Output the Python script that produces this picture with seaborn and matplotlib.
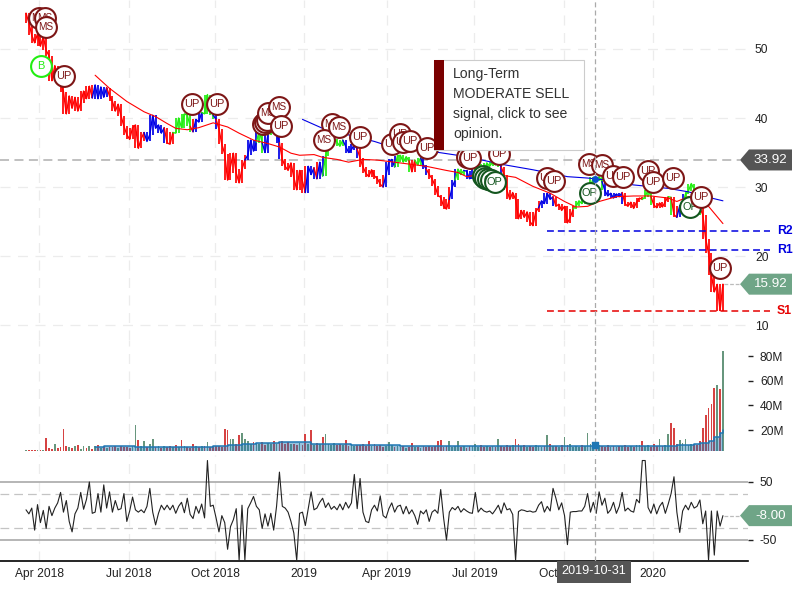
import matplotlib
matplotlib.use("Agg")
import matplotlib.pyplot as plt
from matplotlib.patches import Polygon, Rectangle
import numpy as np
import seaborn as sns

sns.set_theme(style="white")
plt.rcParams['font.family'] = ['Liberation Sans', 'DejaVu Sans']

# ---- data: x is the session slot along the shared time axis ----
tick_labels = ['Apr 2018', 'Jul 2018', 'Oct 2018', '2019', 'Apr 2019', 'Jul 2019', 'Oct 2019', '2020']
tick_slots = [4.6, 35.7, 65.7, 96.5, 125.2, 155.7, 186.7, 217.6]

close = [
 55.2,53.8,52.0,50.9,52.2,50.4,51.8,49.8,49.0,45.4,
 47.6,46.2,45.2,43.8,40.6,43.2,41.4,43.0,41.0,42.2,
 43.9,42.8,44.6,42.9,44.8,42.8,44.5,43.0,44.4,43.2,
 42.4,41.0,42.0,40.3,38.8,37.6,36.9,38.6,39.0,35.6,
 37.0,37.9,36.6,37.6,40.4,38.5,39.0,37.8,38.6,36.4,
 36.2,37.9,37.8,40.0,38.6,40.6,40.4,38.8,38.0,39.8,
 39.4,40.8,40.6,43.4,41.0,40.4,39.8,38.4,36.2,34.8,
 31.0,33.0,34.9,32.0,30.6,32.6,33.9,34.6,36.8,35.2,
 36.5,38.2,36.4,35.0,37.6,38.0,37.8,38.0,36.4,34.0,
 33.0,32.4,33.5,31.4,29.6,32.4,30.8,29.2,33.0,31.8,
 32.8,31.2,33.6,31.6,34.5,36.0,37.0,37.0,36.5,35.9,
 36.8,35.9,35.0,35.4,36.2,35.5,34.2,32.9,32.0,31.5,
 32.5,31.6,31.2,30.4,30.0,31.8,33.6,34.0,32.9,34.5,
 34.6,33.6,34.4,33.8,32.2,33.9,33.2,34.2,33.2,32.6,
 31.8,31.2,30.2,28.8,28.5,27.2,26.8,28.2,30.0,31.0,
 32.6,31.8,32.4,32.3,31.2,31.4,32.8,33.4,33.0,32.2,
 33.5,33.0,33.6,33.2,33.6,32.9,31.8,29.5,28.2,29.2,
 28.2,25.4,26.6,25.6,26.4,25.0,24.4,26.4,27.0,28.0,
 27.6,29.1,28.2,28.6,27.2,27.5,26.6,27.2,24.8,25.6,
 26.8,27.2,28.0,27.6,28.6,29.0,30.0,31.4,31.0,31.5,
 30.8,29.5,28.7,29.1,28.4,29.0,28.6,29.2,27.6,27.2,
 27.8,26.9,27.8,28.4,28.2,28.6,29.6,28.6,27.4,27.0,
 27.7,27.1,27.9,28.6,28.5,26.0,25.6,27.3,27.4,29.0,
 29.4,30.5,29.7,28.6,27.0,26.0,22.5,20.4,17.2,14.8,
 15.9,12.1,15.92]

trend_runs = [('red',24),('blue',5),('red',13),('blue',7),('red',3),('green',6),('red',1),('blue',3),
 ('green',4),('blue',1),('red',10),('blue',4),('green',2),('blue',2),('green',2),('blue',2),('red',9),
 ('blue',3),('red',1),('blue',2),('green',7),('blue',5),('red',9),('blue',4),('green',5),('red',2),
 ('green',2),('blue',2),('red',8),('blue',2),('green',3),('blue',3),('green',9),('blue',1),('red',13),
 ('blue',5),('red',7),('green',10),('blue',7),('red',7),('green',3),('red',6),('green',1),('red',2),
 ('blue',2),('green',6),('red',8)]

ma_short_x = [24,29,35,41,45,49,52,56,60,65,70,74,79,84,88,92,95,100,103,108,112,117,122,126,
 139,146,150,153,159,167,170,176,182,187,191,195,199,205,211,217,223,226,230,235,237,239,242]
ma_short_y = [46.2,44.3,42.4,40.9,40.2,39.2,38.5,38.3,38.6,39.3,38.7,37.8,36.8,36.3,35.8,34.9,34.6,34.7,34.3,34.0,33.6,34.0,33.9,33.7,
 33.0,32.4,32.1,31.5,31.9,31.6,31.4,30.1,29.1,27.9,27.1,27.2,27.9,28.6,28.7,28.7,28.4,27.9,28.6,28.6,27.2,26.2,24.7]
ma_long_x = [96,103,121,124,145,153,165,176,188,195,202,211,223,230,236,242]
ma_long_y = [39.8,38.5,36.6,36.2,34.9,34.4,33.3,32.5,31.5,31.3,31.0,30.3,29.8,29.3,28.6,28.0]

levels = {'R2': 23.6, 'R1': 20.9, 'S1': 12.0}
level_start = 181
prev_close = 33.92
last_close = 15.92
last_osc = -8.0
cross_slot = 197.6
cross_date = '2019-10-31'
cross_price = 31.2
cross_vol = 7.6

badges = [('MS',4.5,54.5),('MS',6.6,54.5),('MS',6.9,53.2),('B',5.1,47.6),('UP',13.2,46.1),('UP',57.6,42.1),
 ('UP',66.3,42.0),('UP',82.3,39.1),('UP',83.0,39.4),('UP',83.7,39.7),('MS',84.0,40.7),('MS',87.8,41.6),
 ('UP',88.5,38.9),('MS',106.3,39.1),('MS',103.5,36.8),('MS',108.7,38.7),('UP',116.0,37.2),('UP',127.1,36.3),
 ('UP',129.9,37.7),('UP',130.9,36.5),('UP',133.3,36.7),('UP',139.2,35.7),('UP',153.1,34.3),('UP',154.2,34.2),
 ('OP',158.7,31.6),('OP',159.4,31.3),('OP',160.4,31.2),('OP',161.5,31.0),('OP',162.8,30.7),('UP',164.2,34.8),
 ('UP',180.9,31.3),('UP',183.3,30.9),('OP',195.8,29.1),('MS',195.5,33.3),('MS',200.0,33.2),('UP',203.8,31.6),
 ('UP',207.3,31.4),('UP',216.0,32.3),('UP',217.7,30.7),('UP',224.7,31.3),('OP',230.6,27.1),('UP',234.4,28.6),
 ('UP',241.0,18.2)]

volume = [
 3.6,4.2,3.8,3.6,3.7,3.5,3.6,13.3,5.2,4.6,
 9,5.4,6.2,20.6,6.8,6,5.4,7.4,7.6,5,
 7.4,5.2,6.8,5,7,7.8,5.4,6.6,5.8,6.2,
 6.4,7,5.6,6.8,6,6.4,5.4,7,24,12,
 7,11,6.6,8.4,13,6.2,7,5.8,6.8,6.4,
 7.2,6,8,6.4,12,7,6.4,5.8,8.6,7,
 6.2,6.8,7.4,10.6,6,6.8,7,7.4,6.4,20.6,
 20,12.5,13,9,16,18,13,11,9,10.4,
 9,8.6,10.4,7.8,9.6,9,11,8.4,10.6,11.4,
 8.6,10,9,8.4,7.6,9.4,8,17,9,20,
 7.8,9.4,8.4,14.6,16.5,9,8,9.4,7.6,8.6,
 8,12,7.4,8.8,7,8.2,7.6,9,7,11.4,
 7.4,8.6,7,8,6.6,7.4,10.6,7.8,6.4,7,
 6.4,6.8,5.8,6.6,9.7,6,6.6,5.4,6.8,6.2,
 7,6,7.4,11,11.6,6.6,7.4,11,6,6.8,
 11,6.4,7.4,5.6,7.2,6.8,8.6,6,7.6,6.4,
 7,6.2,7.4,6.6,13,7.2,6,8.2,6.8,7.6,
 13,9,7,8,6.4,7,6.2,7.6,6.8,6.4,
 7,16,9,6.8,7.4,6.2,8,14,7.6,9,
 6.6,7.2,6.4,7.8,7,18,8.6,6.8,9,8,
 7.2,6.4,7.8,6.6,7,6.2,7.4,6.8,7.6,6.4,
 7,6.2,8,7.6,11,7.4,7.8,6.6,8.6,7,
 12.4,7.4,7.8,16.5,25.4,21.4,9,11.6,9.4,13,
 8,8.4,9,7.6,11,22,32,37.5,41.5,54,
 56.5,53,84]

vol_avg_x = [24,27,37,38,65,70,75,80,88,96,99,111,113,127,130,224,226,232,234,237,239,241,242]
vol_avg_y = [6.0,7,7,6.5,6.8,7.5,8.5,9.5,10.2,10.2,9,9,8,8,7,7.2,8.2,8.4,9.5,11.5,14,18,20]

osc = [
 2,-5,5,-33,11,-20,1,-30,8,-8,
 5,14,32,-2,18,-18,-36,-5,5,32,
 3,20,50,-4,-2,30,-2,45,5,33,
 -2,18,2,4,30,-18,0,24,2,-2,
 2,-3,8,39,-2,-24,-4,10,2,10,
 2,10,-4,8,15,-3,22,-6,-13,8,
 -4,12,-12,87,8,10,-12,-36,-8,-20,
 -66,-27,-15,4,-85,10,-85,4,14,25,
 8,2,-30,-5,-26,-4,-33,8,67,8,
 5,-2,-18,-38,-85,-4,-2,-25,4,33,
 2,5,15,22,6,14,3,8,2,12,
 2,15,5,14,63,4,56,-2,-18,-20,
 2,10,0,26,-8,-12,4,14,-2,8,
 10,-5,8,-5,2,-8,-23,0,-5,2,
 -18,-2,2,-4,37,-12,-50,-2,6,2,
 8,-2,4,0,-3,-4,32,-2,5,0,
 -2,0,-5,2,10,-4,14,2,4,-6,
 -85,-1,2,1,-1,0,-2,-1,10,16,
 -2,8,0,39,22,2,14,-8,-58,-2,
 -1,-1,0,0,8,30,-2,15,-4,33,
 10,22,-4,2,15,-4,8,32,0,5,
 0,-2,20,14,87,87,6,-4,12,-5,
 8,15,-4,12,30,59,-2,-37,0,10,
 2,15,5,8,19,-22,0,-85,0,-76,0,-26,-8]

# ---- styling ----
W, H = 800.0, 600.0
AX_R = 748
RED, BLUE, LIME = '#ff0000', '#0000e6', '#22ee11'
line_col = {'red': RED, 'blue': BLUE, 'green': LIME}
GRID = '#ececec'
XMIN, XMAX = -9.03, 250.7
slots = np.arange(len(close))

def pane(top, bottom):
    return fig.add_axes([0, 1 - bottom / H, AX_R / W, (bottom - top) / H], facecolor='none')

fig = plt.figure(figsize=(8, 6), dpi=100)
ax_p = pane(0, 340)
ax_v = pane(340, 451)
ax_o = pane(455, 561)
for ax in (ax_p, ax_v, ax_o):
    ax.set_xlim(XMIN, XMAX)
    for s in ax.spines.values():
        s.set_visible(False)
    ax.set_xticks(tick_slots)
    ax.set_xticklabels([])
    ax.tick_params(axis='x', length=0)
    ax.xaxis.grid(True, color=GRID, ls=(0, (8, 6)), lw=0.9)
    ax.set_axisbelow(True)
    ax.yaxis.tick_right()
    ax.axvline(cross_slot, color='#aaaaaa', ls=(0, (4, 2.5)), lw=0.9, zorder=20)
    ax.set_xlabel('')

# price pane
ax_p.set_ylim(7.83, 57.1)
ax_p.set_yticks([10, 20, 30, 40, 50])
ax_p.tick_params(axis='y', length=0, pad=5, labelsize=8.64, labelcolor='#222222')
ax_p.yaxis.grid(True, color=GRID, ls=(0, (8, 6)), lw=0.9)
ax_p.axhline(prev_close, xmin=0, xmax=740 / AX_R, color='#bbbbbb', ls=(0, (5, 3)), lw=1.3, zorder=1)

# each session is a vertical range bar reaching its neighbours' closes, joined by the close line
closes = np.array(close)
pos = 0
for name, n in trend_runs:
    a = max(pos - 1, 0)
    b = pos + n
    sns.lineplot(x=slots[a:b], y=closes[a:b], ax=ax_p, color=line_col[name], lw=1.0, zorder=3,
                 estimator=None, sort=False, legend=False)
    run = slots[pos:b]
    lo = [closes[max(i - 1, 0):i + 2].min() for i in run]
    hi = [closes[max(i - 1, 0):i + 2].max() for i in run]
    ax_p.vlines(run, lo, hi, color=line_col[name], lw=1.25, zorder=3)
    pos = b
sns.lineplot(x=ma_short_x, y=ma_short_y, ax=ax_p, color=RED, lw=0.8, zorder=4, estimator=None)
sns.lineplot(x=ma_long_x, y=ma_long_y, ax=ax_p, color=BLUE, lw=0.8, zorder=4, estimator=None)

for name, lvl in levels.items():
    c = '#0000e0' if name[0] == 'R' else '#e60000'
    ax_p.plot([level_start, 258.3], [lvl, lvl], color=c, ls=(0, (4.5, 2.6)), lw=1.1, clip_on=False, zorder=5)
    ax_p.text(260.7, lvl, name, color=c, fontsize=8.8, fontweight='bold', va='center', ha='left', clip_on=False)

# signal badges
badge_col = {'UP': '#7d1616', 'MS': '#7d1616', 'OP': '#14561f', 'B': '#22ee11'}
for k, (lab, bx, by) in enumerate(badges):
    z = 10 + k * 0.01
    c = badge_col[lab]
    sns.scatterplot(x=[bx], y=[by], ax=ax_p, s=225, color='white', edgecolor=c, linewidth=1.5,
                    zorder=z, clip_on=False, legend=False)
    ax_p.text(bx, by, lab, color=c, fontsize=7.9 if lab != 'MS' else 7.2, ha='center', va='center', zorder=z + 0.005)
ax_p.set_ylabel('')
ax_p.scatter([cross_slot], [cross_price], s=16, color='#0a4fd0', zorder=21)

# volume pane
ax_v.set_ylim(3, 93)
ax_v.set_yticks([20e0, 40, 60, 80])
ax_v.set_yticklabels(['20M', '40M', '60M', '80M'])
ax_v.tick_params(axis='y', length=3.6, width=1, pad=5, labelsize=8.64, color='#222222', labelcolor='#222222', direction='out')
bar_dir = ['down' if i > 0 and close[i] < close[i - 1] else 'up' for i in range(len(close))]
sns.barplot(x=slots, y=volume, hue=bar_dir, palette={'down': '#ee2a2a', 'up': '#5f9e7c'}, dodge=False,
            native_scale=True, width=0.6, ax=ax_v, legend=False, zorder=2, linewidth=0)
ax_v.set_xlim(XMIN, XMAX)
ax_v.set_xticks(tick_slots)
ax_v.set_xticklabels([])
ax_v.set_xlabel('')
sns.lineplot(x=vol_avg_x, y=vol_avg_y, ax=ax_v, color='#1f77b4', lw=1.1, zorder=4, estimator=None, drawstyle='steps-post')
ax_v.fill_between(vol_avg_x, 3, vol_avg_y, step='post', color='#1f77b4', alpha=0.45, lw=0, zorder=3)
ax_v.scatter([cross_slot], [cross_vol], s=18, marker='s', color='#1f77b4', zorder=21)

# oscillator pane
ax_o.set_ylim(-86.2, 96.5)
ax_o.set_yticks([-50, 50])
ax_o.set_yticklabels(['-50', '50'])
ax_o.tick_params(axis='y', length=3.6, width=1, pad=5, labelsize=8.64, color='#222222', labelcolor='#222222', direction='out')
for v in (50, -50):
    ax_o.axhline(v, color='#b0b0b0', lw=1.3, zorder=1)
for v in (30, -30):
    ax_o.axhline(v, color='#c4c4c4', ls=(0, (7, 4)), lw=0.9, zorder=1)
sns.lineplot(x=slots, y=osc, ax=ax_o, color='#222222', lw=0.8, zorder=3, estimator=None, sort=False)
ax_o.set_ylabel('')
ax_o.spines['bottom'].set_visible(True)
ax_o.spines['bottom'].set_color('black')
ax_o.spines['bottom'].set_linewidth(1.2)
ax_o.set_xticklabels(tick_labels)
ax_o.tick_params(axis='x', length=0, pad=5, labelsize=8.64, labelcolor='#222222')

# helpers for decoration given in figure pixels
def fx(x):
    return x / W
def fy(y):
    return 1 - y / H

def value_tag(ax, value, color, text):
    disp_y = ax.transData.transform((0, value))[1]
    yy = H - disp_y
    pts = [(740, yy), (749, yy - 10.5), (792, yy - 10.5), (792, yy + 10.5), (749, yy + 10.5)]
    fig.add_artist(Polygon([(fx(a), fy(b)) for a, b in pts], closed=True, transform=fig.transFigure,
                           facecolor=color, edgecolor='none', zorder=3))
    fig.text(fx(770.5), fy(yy), text, color='white', fontsize=9.6, ha='center', va='center', zorder=4)

fig.canvas.draw()
value_tag(ax_p, prev_close, '#555555', f'{prev_close:.2f}')
value_tag(ax_p, last_close, '#6fa587', f'{last_close:.2f}')
value_tag(ax_o, last_osc, '#6fa587', f'{last_osc:.2f}')

end_slot = slots[-1] + 0.3
tag_slot = (740 - 26) / 2.88
ax_p.plot([end_slot, tag_slot], [last_close, last_close], color='#bbbbbb', ls=(0, (3, 1.5)), lw=0.9, clip_on=False, zorder=2)
ax_o.plot([end_slot, tag_slot], [last_osc, last_osc], color='#bbbbbb', ls=(0, (3, 1.5)), lw=0.9, clip_on=False, zorder=2)

# crosshair date label
fig.add_artist(Rectangle((fx(557), fy(583)), 74 / W, 22 / H, transform=fig.transFigure,
                         facecolor='#555555', edgecolor='none', zorder=3))
fig.text(fx(594), fy(571.5), cross_date, color='white', fontsize=9.1, ha='center', va='center', zorder=4)

# opinion tooltip
fig.add_artist(Rectangle((fx(434), fy(150)), 150 / W, 90 / H, transform=fig.transFigure,
                         facecolor='white', edgecolor='#cccccc', lw=0.8, zorder=3))
fig.add_artist(Rectangle((fx(434), fy(150)), 10 / W, 90 / H, transform=fig.transFigure,
                         facecolor='#7a0000', edgecolor='none', zorder=3.5))
for t, yy in zip(['Long-Term', 'MODERATE SELL', 'signal, click to see', 'opinion.'], [74, 94, 114, 134]):
    fig.text(fx(453), fy(yy), t, color='#333333', fontsize=10.1, ha='left', va='center', zorder=4)

fig.savefig('out.png', dpi=100)
